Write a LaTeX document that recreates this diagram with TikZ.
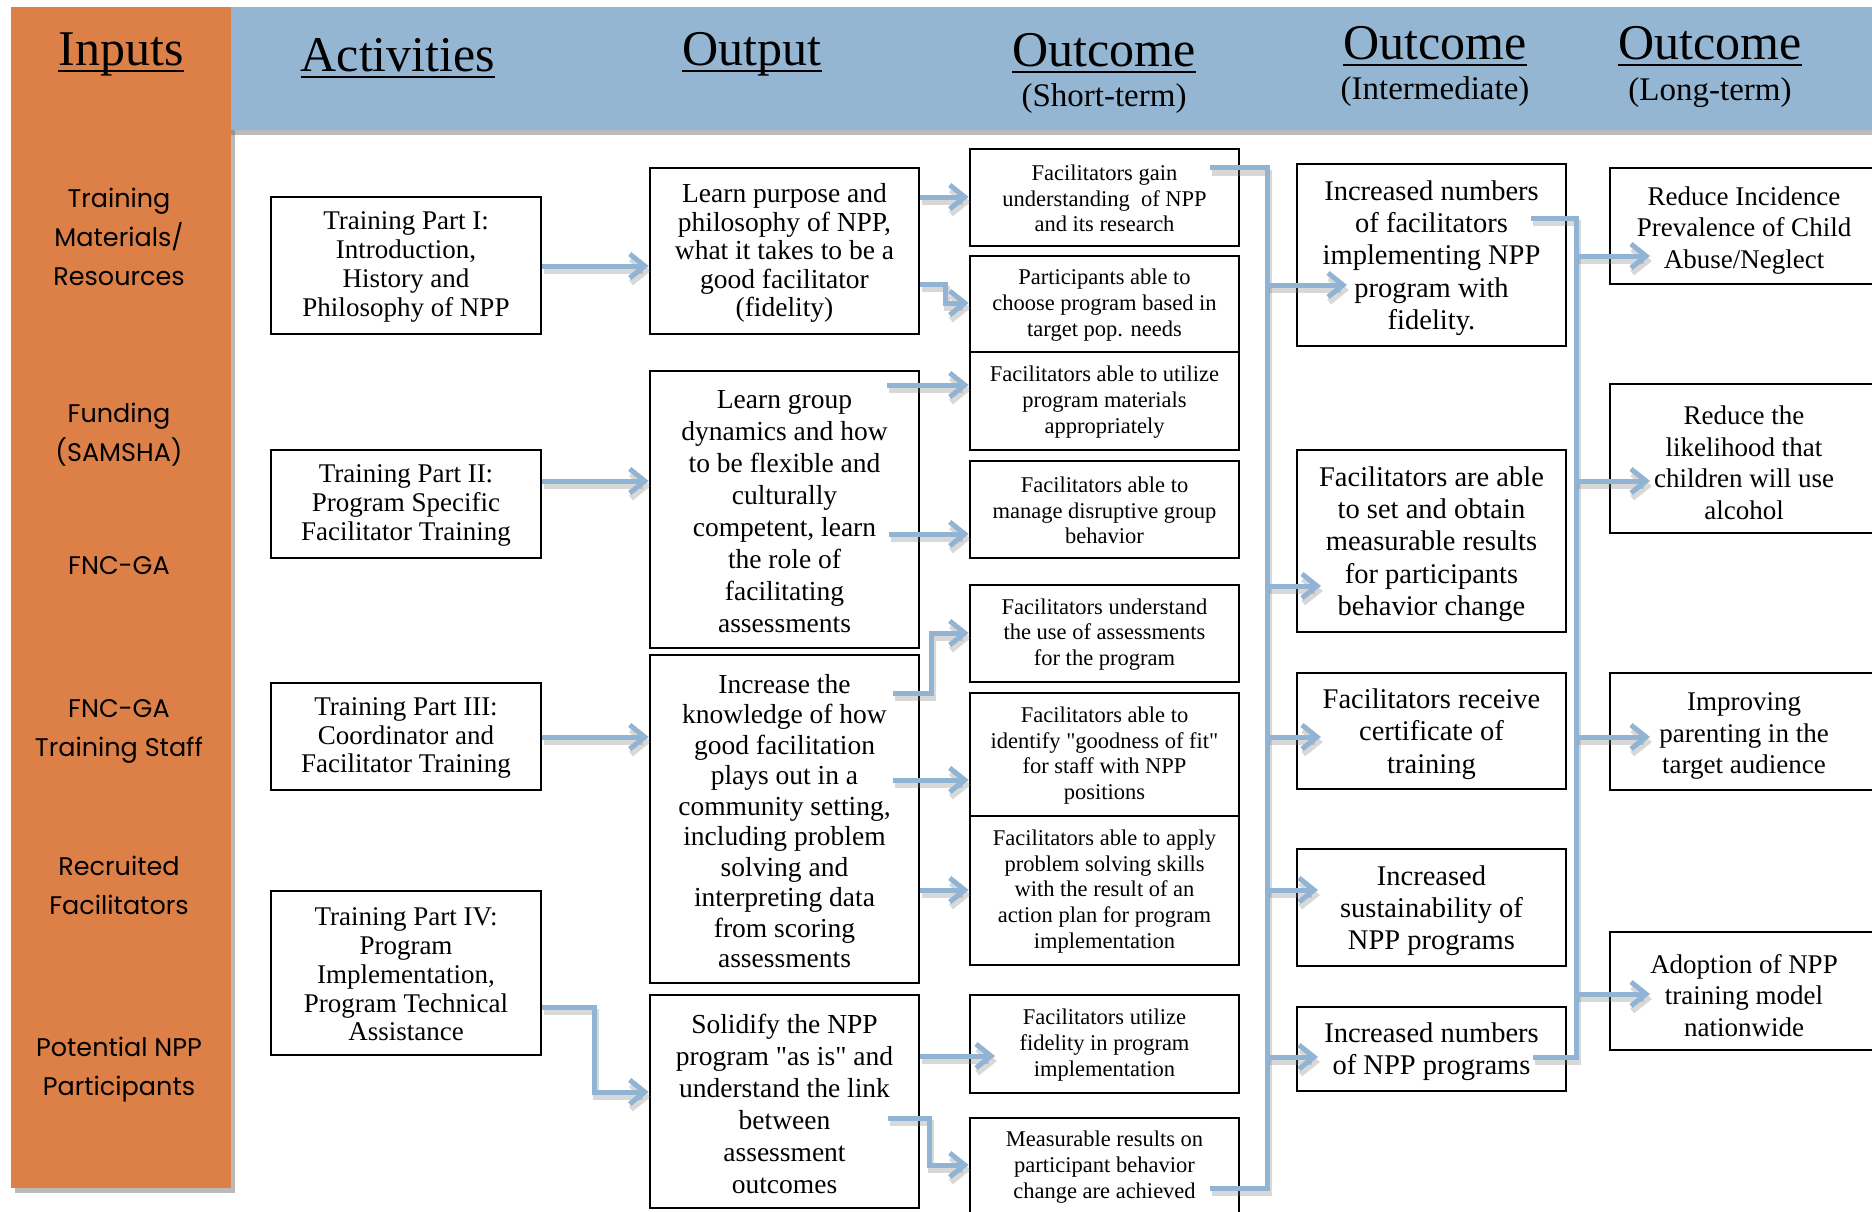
\documentclass[tikz,border=0pt]{standalone}
\usepackage{fontspec}
\setmainfont{Liberation Serif}[Ligatures=TeXOff]
\newfontfamily\inpfont{Poppins}
\usetikzlibrary{arrows.meta,fit,shadows,calc}
\definecolor{orng}{RGB}{221,128,71}
\definecolor{hdrblue}{RGB}{148,182,210}
\definecolor{arrblue}{RGB}{146,180,212}
% box: name, text style, corner 1, corner 2, text shift down (pt), text
\newcommand\bx[6]{%
  \node[box, fit={#3 #4}] (#1) {};
  \node[#2, align=center, inner sep=0pt] (#1t) at ([yshift=-#5pt]#1.center) {#6};}
\begin{document}
\begin{tikzpicture}[x=1pt,y=-1pt,
  box/.style={draw=black, line width=2.6pt, inner sep=0pt, fill=white},
  fA/.style={font=\fontsize{27}{28.7}\selectfont},
  fO/.style={font=\fontsize{27.5}{#1}\selectfont},
  fS/.style={font=\fontsize{22.5}{25.7}\selectfont},
  fI/.style={font=\fontsize{28.5}{32.3}\selectfont},
  fL/.style={font=\fontsize{27}{31.5}\selectfont},
  hdr/.style={font=\fontsize{50}{50}\selectfont, inner sep=0pt, anchor=base},
  sub/.style={font=\fontsize{33}{33}\selectfont, inner sep=0pt, anchor=base},
  inp/.style={font=\inpfont\fontsize{25.5}{39}\selectfont, align=center, inner sep=0pt},
  shd/.style={preaction={draw=black!50, opacity=0.3, line width=6pt, transform canvas={shift={(2pt,-5pt)}}}},
  conn/.style={shd, draw=arrblue, line width=5pt, -{Straight Barb[length=15pt,width=24pt]}},
  coll/.style={shd, draw=arrblue, line width=5pt},
  uline/.style={line width=2.5pt}
]
\useasboundingbox (0,0) rectangle (1872,1212);
\fill[white] (0,0) rectangle (1872,1212);
\clip (0,0) rectangle (1872,1212);

% column bands
\path[fill=orng, drop shadow={shadow xshift=4pt, shadow yshift=-5pt, opacity=0.45, fill=black!60}] (11,7) rectangle (231,1188);
\path[fill=hdrblue, drop shadow={shadow xshift=0pt, shadow yshift=-5pt, opacity=0.45, fill=black!60}] (231,7) rectangle (1880,130);

% headers
\node[hdr] (h1) at (121,66) {Inputs};
\node[hdr] (h2) at (398,72) {Activities};
\node[hdr] (h3) at (752,66) {Output};
\node[hdr] (h4) at (1104,67) {Outcome};
\node[sub] (h4s) at (1104,107) {(Short-term)};
\node[hdr] (h5) at (1435,60) {Outcome};
\node[sub] (h5s) at (1435,100) {(Intermediate)};
\node[hdr] (h6) at (1710,60) {Outcome};
\node[sub] (h6s) at (1710,101) {(Long-term)};
\foreach \h in {h1,h2,h3,h4,h5,h6}{
  \draw[uline] ([yshift=-5pt]\h.base west) -- ([yshift=-5pt]\h.base east);
}

% inputs
\node[inp] (in1) at (119,237) {Training\\Materials/\\Resources};
\node[inp] (in2) at (119,435) {Funding\\(SAMSHA)};
\node[inp] (in3) at (119,566) {FNC-GA};
\node[inp] (in4) at (119,731) {FNC-GA\\Training Staff};
\node[inp] (in5) at (119,885) {Recruited\\Facilitators};
\node[inp] (in6) at (119,1070) {Potential NPP\\Participants};

% activities
\bx{A1}{fA}{(271,197)}{(541,334)}{1.5}{Training Part I:\\Introduction,\\History and\\Philosophy of NPP}
\bx{A2}{fA}{(271,450)}{(541,558)}{1.5}{Training Part II:\\Program Specific\\Facilitator Training}
\bx{A3}{fA}{(271,683)}{(541,790)}{1.5}{Training Part III:\\Coordinator and\\Facilitator Training}
\bx{A4}{fA}{(271,891)}{(541,1055)}{1.5}{Training Part IV:\\Program\\Implementation,\\Program Technical\\Assistance}

% outputs
\bx{O1}{fO=28.5}{(650,168)}{(919,334)}{2}{Learn purpose and\\philosophy of NPP,\\what it takes to be a\\good facilitator\\(fidelity)}
\bx{O2}{fO=31.9}{(650,371)}{(919,648)}{2}{Learn group\\dynamics and how\\to be flexible and\\culturally\\competent, learn\\the role of\\facilitating\\assessments}
\bx{O3}{fO=30.5}{(650,655)}{(919,983)}{2}{Increase the\\knowledge of how\\good facilitation\\plays out in a\\community setting,\\including problem\\solving and\\interpreting data\\from scoring\\assessments}
\bx{O4}{fO=32}{(650,995)}{(919,1208)}{2}{Solidify the NPP\\program "as is" and\\understand the link\\between\\assessment\\outcomes}

% short-term
\bx{S1}{fS}{(970,149)}{(1239,246)}{1}{Facilitators gain\\understanding~ of NPP\\and its research}
\bx{S2}{fS}{(970,256)}{(1239,352)}{1}{Participants able to\\choose program based in\\target pop. needs}
\bx{S3}{fS}{(970,352)}{(1239,450)}{1}{Facilitators able to utilize\\program materials\\appropriately}
\bx{S4}{fS}{(970,461)}{(1239,558)}{1}{Facilitators able to\\manage disruptive group\\behavior}
\bx{S5}{fS}{(970,585)}{(1239,682)}{1}{Facilitators understand\\the use of assessments\\for the program}
\bx{S6}{fS}{(970,693)}{(1239,816)}{1}{Facilitators able to\\identify "goodness of fit"\\for staff with NPP\\positions}
\bx{S7}{fS}{(970,816)}{(1239,965)}{1}{Facilitators able to apply\\problem solving skills\\with the result of an\\action plan for program\\implementation}
\bx{S8}{fS}{(970,995)}{(1239,1093)}{1}{Facilitators utilize\\fidelity in program\\implementation}
\bx{S9}{fS}{(970,1118)}{(1239,1214)}{1}{Measurable results on\\participant behavior\\change are achieved}

% intermediate
\bx{I1}{fI}{(1297,164)}{(1566,346)}{3}{Increased numbers\\of facilitators\\implementing NPP\\program with\\fidelity.}
\bx{I2}{fI}{(1297,450)}{(1566,632)}{3}{Facilitators are able\\to set and obtain\\measurable results\\for participants\\behavior change}
\bx{I3}{fI}{(1297,673)}{(1566,789)}{3}{Facilitators receive\\certificate of\\training}
\bx{I4}{fI}{(1297,849)}{(1566,966)}{3}{Increased\\sustainability of\\NPP programs}
\bx{I5}{fI}{(1297,1007)}{(1566,1091)}{3}{Increased numbers\\of NPP programs}

% long-term
\bx{L1}{fL}{(1610,168)}{(1878,284)}{4.5}{Reduce Incidence\\Prevalence of Child\\Abuse/Neglect}
\bx{L2}{fL}{(1610,384)}{(1878,533)}{4.5}{Reduce the\\likelihood that\\children will use\\alcohol}
\bx{L3}{fL}{(1610,673)}{(1878,790)}{4.5}{Improving\\parenting in the\\target audience}
\bx{L4}{fL}{(1610,932)}{(1878,1050)}{4.5}{Adoption of NPP\\training model\\nationwide}

% connector start points inside boxes
\coordinate (o2a) at (887,385);
\coordinate (o2b) at (889,534);
\coordinate (o3a) at (893,693);
\coordinate (o3b) at (893,780);
\coordinate (o4b) at (888,1118);
\coordinate (s1o) at (1210,168);
\coordinate (s9o) at (1210,1188);
\coordinate (i1o) at (1531,218);
\coordinate (i5o) at (1533,1057);
\coordinate (c1) at (1267,168);
\coordinate (c2) at (1576,218);

% activities -> outputs
\draw[conn] (A1.east |- 0,266) -- (O1.west |- 0,266);
\draw[conn] (A2.east |- 0,481) -- (O2.west |- 0,481);
\draw[conn] (A3.east |- 0,737) -- (O3.west |- 0,737);
\draw[conn] (A4.east |- 0,1007) -| (594,1092) -- (O4.west |- 0,1092);

% outputs -> short-term
\draw[conn] (O1.east |- 0,197) -- (S1.west |- 0,197);
\draw[conn] (O1.east |- 0,284) -| (945,303) -- (S2.west |- 0,303);
\draw[conn] (o2a) -- (S3.west |- o2a);
\draw[conn] (o2b) -- (S4.west |- o2b);
\draw[conn] (o3a) -| (931,633) -- (S5.west |- 0,633);
\draw[conn] (o3b) -- (S6.west |- o3b);
\draw[conn] (O3.east |- 0,890) -- (S7.west |- 0,890);
\draw[conn] (O4.east |- 0,1056) -- (995,1056);
\draw[conn] (o4b) -| (929,1165) -- (S9.west |- 0,1165);

% short-term -> intermediate
\draw[coll] (s1o) -- (c1) -- (c1 |- s9o) -- (s9o);
\draw[conn] (c1 |- 0,285) -- (1347,285);
\draw[conn] (c1 |- 0,586) -- (1321,586);
\draw[conn] (c1 |- 0,737) -- (1321,737);
\draw[conn] (c1 |- 0,890) -- (1318,890);
\draw[conn] (c1 |- 0,1057) -- (1318,1057);

% intermediate -> long-term
\draw[coll] (i1o) -- (c2) -- (c2 |- i5o) -- (i5o);
\draw[conn] (c2 |- 0,256) -- (1650,256);
\draw[conn] (c2 |- 0,481) -- (1650,481);
\draw[conn] (c2 |- 0,737) -- (1650,737);
\draw[conn] (c2 |- 0,994) -- (1650,994);
\end{tikzpicture}
\end{document}
